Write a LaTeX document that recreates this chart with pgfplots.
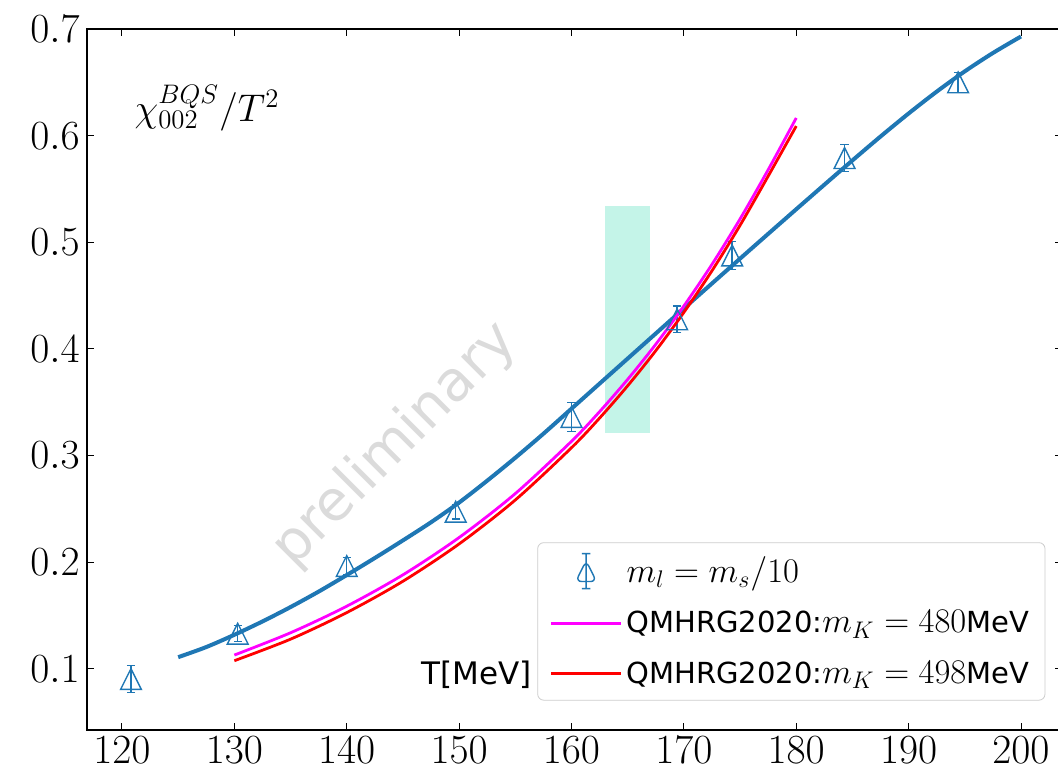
\documentclass[border=0pt]{standalone}
\usepackage[no-math]{fontspec}
\setmainfont{DejaVu Sans}
\usepackage{pgfplots}
\pgfplotsset{compat=1.18}

\definecolor{tabblue}{HTML}{1F77B4}
\definecolor{bandcol}{RGB}{196,244,232}
\definecolor{mpmagenta}{RGB}{255,0,255}
\definecolor{mpred}{RGB}{255,0,0}

% matplotlib-like open triangle: as wide as it is high
\pgfdeclareplotmark{mtri}{%
  \pgfpathmoveto{\pgfqpoint{0pt}{\pgfplotmarksize}}%
  \pgfpathlineto{\pgfqpoint{-\pgfplotmarksize}{-\pgfplotmarksize}}%
  \pgfpathlineto{\pgfqpoint{\pgfplotmarksize}{-\pgfplotmarksize}}%
  \pgfpathclose\pgfusepathqstroke}

\pgfplotsset{
  errlegend/.style={legend image code/.code={
    \draw[tabblue, line width=0.7pt]
      (17.5pt,-8.75pt) -- (17.5pt,8.75pt)
      (15.4pt,-8.75pt) -- (19.6pt,-8.75pt)
      (15.4pt,8.75pt) -- (19.6pt,8.75pt)
      (17.5pt,5.2pt) -- (12.3pt,-5.2pt) -- (22.7pt,-5.2pt) -- cycle;}},
}
\newcommand{\lm}[1]{{\fontsize{17.28}{20}\selectfont$#1$}}

\pgfplotstableread{
T     y       err
120.8 0.0905  0.0125
130.3 0.1330  0.0075
140.0 0.1965  0.0080
149.7 0.2474  0.0070
160.0 0.3362  0.0136
169.4 0.4278  0.0125
174.3 0.4876  0.0130
184.3 0.5790  0.0128
194.4 0.6500  0.0094
}\lattice

\pgfplotstableread{
T     y
125   0.111
127.5 0.1205
130   0.132
132.5 0.1445
135   0.158
137.5 0.1725
140   0.188
142.5 0.204
145   0.2205
147.5 0.2375
150   0.256
152.5 0.2765
155   0.298
157.5 0.3205
160   0.344
162.5 0.3675
165   0.391
167.5 0.4145
170   0.438
172.5 0.4614
175   0.4847
177.5 0.5079
180   0.531
182.5 0.554
185   0.5768
187.5 0.5992
190   0.6208
192.5 0.6413
195   0.6603
197.5 0.6775
200   0.693
}\fitcurve

\pgfplotstableread{
T     y
130   0.1130
135   0.1339
140   0.1588
145   0.1882
150   0.2232
155   0.2644
160   0.3134
162.5 0.3412
165   0.3715
167.5 0.4044
170   0.4403
172.5 0.4793
175   0.5219
177.5 0.5680
180   0.6166
}\hrgA

\pgfplotstableread{
T     y
130   0.1077
135   0.1279
140   0.1528
145   0.1822
150   0.2172
155   0.2584
160   0.3074
162.5 0.3352
165   0.3655
167.5 0.3984
170   0.4343
172.5 0.4733
175   0.5159
177.5 0.5620
180   0.6090
}\hrgB

\begin{document}
\begin{tikzpicture}
\begin{axis}[
    name=ax,
    scale only axis,
    clip=false,
    width=487.65pt, height=350.4pt,
    xmin=116.86, xmax=203.65,
    ymin=0.0429, ymax=0.7,
    xtick={120,130,...,200},
    ytick={0.1,0.2,0.3,0.4,0.5,0.6,0.7},
    yticklabel style={/pgf/number format/fixed,
        /pgf/number format/precision=1,
        /pgf/number format/fixed zerofill},
    tick label style={font=\fontsize{22}{26}\selectfont},
    tick align=inside,
    major tick length=3.5pt,
    every tick/.style={black, line width=0.5pt},
    axis line style={draw=none},
    legend image code/.code={\draw[#1] (0pt,0pt) -- (35pt,0pt);},
    legend cell align={left},
    legend style={
        at={(0.462,0.2676)}, anchor=north west,
        draw=black!20, rounded corners=3pt, fill=white,
        font=\fontsize{14.5}{17}\selectfont,
        inner xsep=6pt, inner ysep=5pt, row sep=8.5pt,
        /tikz/every even column/.append style={column sep=3pt},
    },
]

\addplot[fill=bandcol, draw=none, forget plot]
    coordinates {(163,0.3215) (167,0.3215) (167,0.534) (163,0.534)} -- cycle;

\node[rotate=45, text=black!14, font=\fontsize{28}{33}\selectfont]
    at (axis cs:144.3,0.310) {preliminary};

\addplot[tabblue, only marks, mark=mtri, mark size=5.2pt, line width=0.7pt,
    forget plot,
    error bars/.cd, y dir=both, y explicit, error mark=|,
    error mark options={tabblue, mark size=2.1pt, line width=0.7pt},
    error bar style={line width=0.7pt}]
    table[x=T, y=y, y error=err] {\lattice};

\addplot[tabblue, line width=2pt, smooth, forget plot] table[x=T, y=y] {\fitcurve};
\addplot[mpmagenta, line width=1.4pt, smooth, forget plot] table[x=T, y=y] {\hrgA};
\addplot[mpred, line width=1.4pt, smooth, forget plot] table[x=T, y=y] {\hrgB};

\addlegendimage{errlegend}
\addlegendentry{\lm{m_l = m_s/10}}
\addlegendimage{mpmagenta, line width=1.4pt}
\addlegendentry{QMHRG2020:\lm{m_K = 480}MeV}
\addlegendimage{mpred, line width=1.4pt}
\addlegendentry{QMHRG2020:\lm{m_K = 498}MeV}

% frame: left, top and bottom spines (the right one lies past the cut)
\draw[line width=0.8pt] (rel axis cs:1,1) -- (rel axis cs:0,1)
    -- (rel axis cs:0,0) -- (rel axis cs:1,0);

\node[anchor=base west, inner sep=0pt, scale=0.93, font=\fontsize{20.74}{25}\selectfont]
    at (axis cs:121.1,0.613) {$\chi^{BQS}_{002}/T^2$};
\node[anchor=base east, inner sep=0pt, font=\fontsize{15.5}{18}\selectfont]
    at (axis cs:156.48,0.0858) {T[MeV]};

\end{axis}
\pgfresetboundingbox
\path[use as bounding box] ([shift={(-43.35pt,-21.6pt)}]ax.south west)
    rectangle ([shift={(485.65pt,364.9pt)}]ax.south west);
\end{tikzpicture}
\end{document}
